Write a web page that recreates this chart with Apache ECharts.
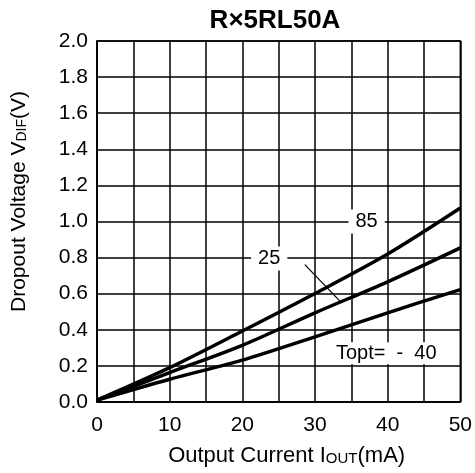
<!DOCTYPE html>
<html>
<head>
<meta charset="utf-8">
<script src="https://cdn.jsdelivr.net/npm/echarts@6/dist/echarts.min.js"></script>
<style>html,body{margin:0;padding:0;background:#fff;}#c{width:475px;height:473px;}</style>
</head>
<body>
<div id="c"></div>
<script>
var currents = [0, 10, 20, 30, 40, 50];
var v85 = [0.01, 0.19, 0.393, 0.601, 0.82, 1.075];
var v25 = [0.01, 0.163, 0.314, 0.494, 0.666, 0.854];
var vm40 = [0.01, 0.126, 0.232, 0.361, 0.494, 0.623];
var xTicks = [0, 10, 20, 30, 40, 50];
var yTicks = [0, 0.2, 0.4, 0.6, 0.8, 1.0, 1.2, 1.4, 1.6, 1.8, 2.0];

function pairs(ys) { return currents.map(function (x, i) { return [x, ys[i]]; }); }

var FONT = 'Liberation Sans';
var labelBox = { color: '#000', fontFamily: FONT, fontSize: 20, backgroundColor: '#fff', padding: [2, 7] };

var chart = echarts.init(document.getElementById('c'));
chart.setOption({
  animation: false,
  title: {
    text: 'R\u00d75RL50A', left: 270, top: 3, textAlign: 'center',
    textStyle: { fontFamily: FONT, fontWeight: 'bold', fontSize: 26, color: '#000' }
  },
  grid: { left: 97, right: 13, top: 41, bottom: 71, show: true, borderColor: '#000', borderWidth: 1.5 },
  xAxis: {
    type: 'value', min: 0, max: 50, interval: 5,
    name: 'Output Current I{s|OUT}(mA)', nameLocation: 'middle', nameGap: 43,
    nameTextStyle: { fontFamily: FONT, fontSize: 22, color: '#000', padding: [0, 0, 0, 16],
      rich: { s: { fontFamily: FONT, fontSize: 15, color: '#000', verticalAlign: 'bottom', padding: [0, 0, 1, 0] } } },
    axisLine: { lineStyle: { color: '#000', width: 1.5 } },
    axisTick: { show: false },
    axisLabel: { fontFamily: FONT, fontSize: 21, color: '#000', margin: 13,
      formatter: function (v) { return xTicks.indexOf(v) >= 0 ? String(v) : ''; } },
    splitLine: { show: true, lineStyle: { color: '#000', width: 1.5 } }
  },
  yAxis: {
    type: 'value', min: 0, max: 2, interval: 0.2,
    name: 'Dropout Voltage V{s|DIF}(V)', nameLocation: 'middle', nameGap: 67,
    nameTextStyle: { fontFamily: FONT, fontSize: 21, color: '#000', padding: [0, 0, 0, 40],
      rich: { s: { fontFamily: FONT, fontSize: 14, color: '#000', verticalAlign: 'bottom', padding: [0, 0, 1, 0] } } },
    axisLine: { lineStyle: { color: '#000', width: 1.5 } },
    axisTick: { show: false },
    axisLabel: { fontFamily: FONT, fontSize: 21, color: '#000', margin: 9,
      formatter: function (v) { return v.toFixed(1); } },
    splitLine: { show: true, lineStyle: { color: '#000', width: 1.5 } }
  },
  series: [
    { name: '85', type: 'line', data: pairs(v85), smooth: 0.3, showSymbol: false,
      lineStyle: { color: '#000', width: 3.5 },
      markPoint: { symbolSize: 0, data: [{ coord: [37.1, 1.0], label: Object.assign({ show: true, formatter: '85', position: 'inside' }, labelBox) }] } },
    { name: '25', type: 'line', data: pairs(v25), smooth: 0.3, showSymbol: false,
      lineStyle: { color: '#000', width: 3.5 },
      markPoint: { symbolSize: 0, data: [{ coord: [23.7, 0.795], label: Object.assign({ show: true, formatter: '25', position: 'inside' }, labelBox) }] },
      markLine: { symbol: 'none', silent: true, label: { show: false }, lineStyle: { color: '#000', width: 1.2, type: 'solid' },
        data: [[{ coord: [28.6, 0.761] }, { coord: [33.5, 0.556] }]] } },
    { name: '-40', type: 'line', data: pairs(vm40), smooth: 0.3, showSymbol: false,
      lineStyle: { color: '#000', width: 3.5 },
      markPoint: { symbolSize: 0, data: [{ coord: [39.8, 0.27], label: Object.assign({ show: true, formatter: 'Topt=  -  40', position: 'inside' }, labelBox, { padding: [1, 3] }) }] } }
  ]
});
</script>
</body>
</html>
